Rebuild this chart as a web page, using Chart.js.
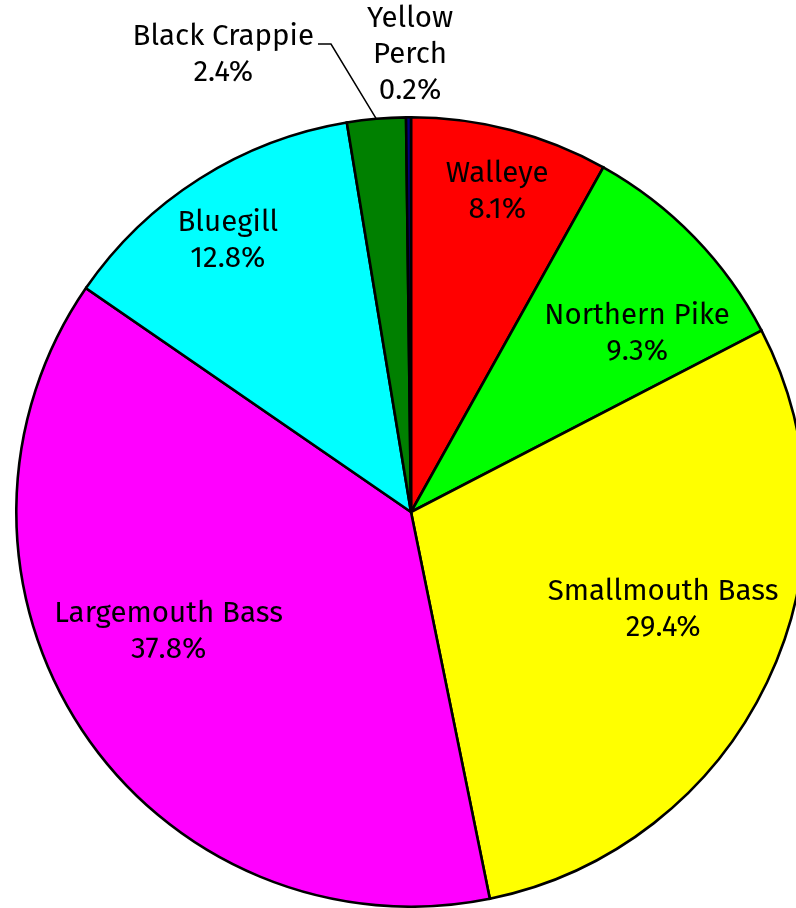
<!DOCTYPE html>
<html>
<head>
<meta charset="utf-8">
<script src="https://cdn.jsdelivr.net/npm/chart.js@4/dist/chart.umd.min.js"></script>
<style>
  html, body { margin: 0; padding: 0; background: #fff; }
  .chart-wrap { width: 796px; height: 908px; overflow: hidden; position: relative; }
  canvas { display: block; }
</style>
</head>
<body>
<div class="chart-wrap"><canvas id="catchChart" width="830" height="908"></canvas></div>
<script>
const species = ['Walleye', 'Northern Pike', 'Smallmouth Bass', 'Largemouth Bass', 'Bluegill', 'Black Crappie', 'Yellow Perch'];
const shares = [8.1, 9.3, 29.4, 37.8, 12.8, 2.4, 0.2];
const sliceColors = ['#ff0000', '#00ff00', '#ffff00', '#ff00ff', '#00ffff', '#008000', '#000080'];

// label placement per slice: inside = angle shift (deg) + radius ratio, outside = text block + leader
const labelPlacement = [
  { inside: true, shift: 0.5, r: 0.84 },
  { inside: true, shift: 5.8, r: 0.73 },
  { inside: true, shift: -4.4, r: 0.685 },
  { inside: true, shift: 7.2, r: 0.685 },
  { inside: true, shift: -1.6, r: 0.83 },
  { inside: false, lines: ['Black Crappie'], right: 314, top: 37, elbow: [331, 44], leader: true },
  { inside: false, lines: ['Yellow', 'Perch'], cx: 410, top: 19, leader: false }
];

const FONT = '29.5px "Fira Sans", "Open Sans", sans-serif';
const LINE = 36;

const sliceLabels = {
  id: 'sliceLabels',
  afterDatasetsDraw(chart) {
    const ctx = chart.ctx;
    const meta = chart.getDatasetMeta(0);
    ctx.save();
    ctx.font = FONT;
    ctx.fillStyle = '#000';
    ctx.textBaseline = 'middle';
    meta.data.forEach((arc, i) => {
      const p = labelPlacement[i];
      const pct = shares[i].toFixed(1) + '%';
      const mid = (arc.startAngle + arc.endAngle) / 2;
      if (p.inside) {
        const a = mid + p.shift * Math.PI / 180;
        const x = arc.x + Math.cos(a) * arc.outerRadius * p.r;
        const y = arc.y + Math.sin(a) * arc.outerRadius * p.r;
        ctx.textAlign = 'center';
        ctx.fillText(species[i], x, y - LINE / 2);
        ctx.fillText(pct, x, y + LINE / 2);
        return;
      }
      const lines = p.lines.concat([pct]);
      const w = Math.max(...lines.map((t) => ctx.measureText(t).width));
      const cx = p.cx !== undefined ? p.cx : p.right - w / 2;
      ctx.textAlign = 'center';
      lines.forEach((t, k) => ctx.fillText(t, cx, p.top + k * LINE));
      if (p.leader) {
        const ex = arc.x + Math.cos(mid) * arc.outerRadius;
        const ey = arc.y + Math.sin(mid) * arc.outerRadius;
        ctx.strokeStyle = '#000';
        ctx.lineWidth = 1.5;
        ctx.beginPath();
        ctx.moveTo(p.right + 4, p.elbow[1]);
        ctx.lineTo(p.elbow[0], p.elbow[1]);
        ctx.lineTo(ex, ey);
        ctx.stroke();
      }
    });
    ctx.restore();
  }
};

new Chart(document.getElementById('catchChart'), {
  type: 'pie',
  data: {
    labels: species,
    datasets: [{
      data: shares,
      backgroundColor: sliceColors,
      borderColor: '#000',
      borderWidth: 2.6,
      borderJoinStyle: 'miter'
    }]
  },
  options: {
    responsive: false,
    animation: false,
    layout: { padding: { left: 14, right: 22, top: 116, bottom: -2 } },
    plugins: { legend: { display: false }, tooltip: { enabled: false } }
  },
  plugins: [sliceLabels]
});
</script>
</body>
</html>
